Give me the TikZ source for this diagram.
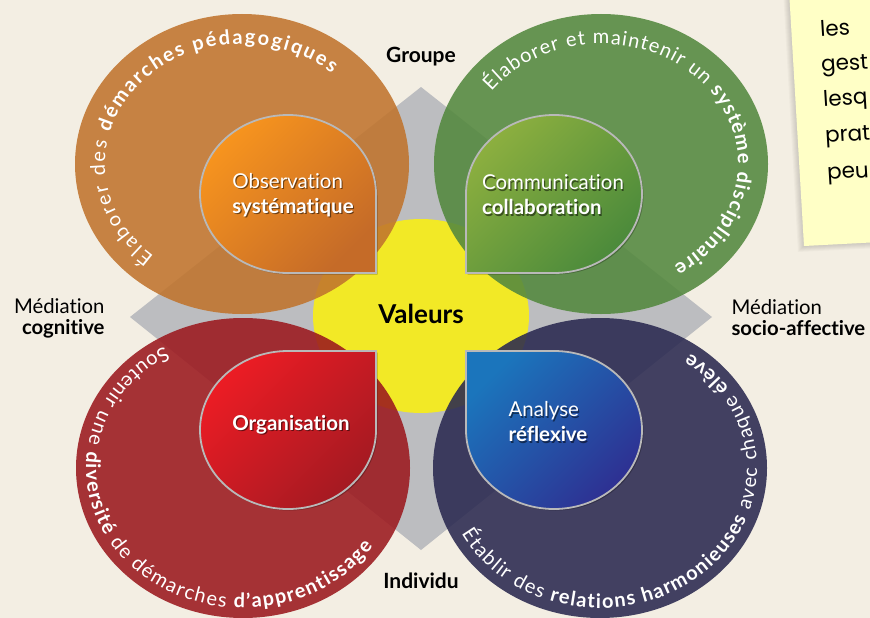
\documentclass[tikz,border=0pt]{standalone}
\usepackage{fontspec}
\setmainfont{Lato}[Ligatures=NoCommon]
\newfontfamily\notehand{Poppins}
\usetikzlibrary{decorations.text}

\definecolor{paper}{RGB}{243,238,227}
\definecolor{postit}{RGB}{255,255,198}
\definecolor{diamondgray}{RGB}{188,189,192}
\definecolor{valyellow}{RGB}{242,233,38}
\definecolor{ringorange}{RGB}{192,116,45}
\definecolor{ringgreen}{RGB}{83,136,62}
\definecolor{ringred}{RGB}{155,24,30}
\definecolor{ringnavy}{RGB}{42,41,80}
\definecolor{obslight}{RGB}{247,148,30}
\definecolor{obsdark}{RGB}{197,107,40}
\definecolor{comlight}{RGB}{140,175,63}
\definecolor{comdark}{RGB}{75,138,59}
\definecolor{orglight}{RGB}{236,28,36}
\definecolor{orgdark}{RGB}{164,26,34}
\definecolor{anlight}{RGB}{27,117,188}
\definecolor{andark}{RGB}{46,48,146}

\newcommand{\ringfont}{\fontsize{20}{20}\selectfont}

\tikzset{
  ring/.style={fill opacity=0.88},
  drop/.style={draw=gray!55, line width=1.8pt, shading angle=45,
    preaction={fill=black, fill opacity=0.25, transform canvas={xshift=1.5pt, yshift=-1.5pt}}},
  droptext/.style={text=white, align=left, font=\fontsize{20.5}{25}\selectfont},
  dropshade/.style={droptext, text=black, text opacity=0.5},
  axislabel/.style={font=\bfseries\fontsize{21}{22}\selectfont},
  sidelabel/.style={font=\fontsize{20.3}{21}\selectfont},
  ringtext/.style={decorate, decoration={text along path, text align={fit to path}, text color=white}},
  notetext/.style={anchor=base west, rotate=3.5, font=\notehand\fontsize{21.5}{22}\selectfont}
}

\begin{document}
\begin{tikzpicture}[x=1pt, y=-1pt]
\useasboundingbox (0,0) rectangle (870,618);
\clip (0,0) rectangle (870,618);
\fill[paper] (0,0) rectangle (870,618);

% sticky note
\foreach \s in {1,...,6}
  \fill[black, opacity=0.025] (789-\s,-10) -- (804-\s,246+\s) -- (880,242+\s) -- (880,-10) -- cycle;
\fill[postit] (789,-10) -- (804,246) -- (880,242) -- (880,-10) -- cycle;
\node[notetext] (note1) at (817,37) {les};
\node[notetext] (note2) at (818,72) {gest};
\node[notetext] (note3) at (820,107) {lesq};
\node[notetext] (note4) at (822,143) {prat};
\node[notetext] (note5) at (824,180) {peu};

% axes and centre
\fill[diamondgray] (421,87) -- (712,317) -- (421,550) -- (130,317) -- cycle;
\fill[valyellow] (421,316) ellipse [x radius=108, y radius=97];

% the four rings
\fill[ring, ringorange] (242,164) ellipse [x radius=167, y radius=150];
\fill[ring, ringgreen] (601,164) ellipse [x radius=167, y radius=150];
\fill[ring, ringred] (243,468) ellipse [x radius=167, y radius=150];
\fill[ring, ringnavy] (600,468) ellipse [x radius=167, y radius=150];

% drops
\path[top color=obslight, bottom color=obsdark, drop] (376,194) -- (376,273) -- (288,273)
  arc[start angle=90, end angle=360, x radius=88, y radius=79] -- cycle;
\path[top color=comlight, bottom color=comdark, drop] (554,273) -- (466,273) -- (466,194)
  arc[start angle=180, end angle=450, x radius=88, y radius=79] -- cycle;
\path[top color=orglight, bottom color=orgdark, drop] (288,351) -- (376,351) -- (376,430)
  arc[start angle=0, end angle=270, x radius=88, y radius=79] -- cycle;
\path[top color=anlight, bottom color=andark, drop] (466,430) -- (466,351) -- (554,351)
  arc[start angle=270, end angle=540, x radius=88, y radius=79] -- cycle;

\node[dropshade] (obsshade) at (294.2,196.2) {Observation\\\textbf{systématique}};
\node[droptext] (obs) at (293,195) {Observation\\\textbf{systématique}};
\node[dropshade] (comshade) at (554.2,196.2) {Communication\\\textbf{collaboration}};
\node[droptext] (com) at (553,195) {Communication\\\textbf{collaboration}};
\node[dropshade] (orgshade) at (292.2,426.2) {\textbf{Organisation}};
\node[droptext] (org) at (291,425) {\textbf{Organisation}};
\node[dropshade] (anashade) at (549.2,423.2) {Analyse\\\textbf{réflexive}};
\node[droptext] (ana) at (548,422) {Analyse\\\textbf{réflexive}};

% text round the rings
\path[ringtext, decoration={text={|\ringfont|Élaborer des |\ringfont\bfseries|démarches pédagogiques}}]
  ([shift={(130:137 and 120)}]242,164) arc[start angle=130, end angle=311, x radius=137, y radius=120];
\path[ringtext, decoration={text={|\ringfont|Élaborer et maintenir un |\ringfont\bfseries|système disciplinaire}}]
  ([shift={(217:137 and 120)}]601,164) arc[start angle=217, end angle=418, x radius=137, y radius=120];
\path[ringtext, decoration={text={|\ringfont|Soutenir une |\ringfont\bfseries|diversité|\ringfont| de démarches |\ringfont\bfseries|d’apprentissage}}]
  ([shift={(240:157 and 140)}]243,468) arc[start angle=240, end angle=34, x radius=157, y radius=140];
\path[ringtext, decoration={text={|\ringfont|Établir des |\ringfont\bfseries|relations harmonieuses|\ringfont| avec chaque |\ringfont\bfseries|élève}}]
  ([shift={(152:157 and 140)}]600,468) arc[start angle=152, end angle=-55, x radius=157, y radius=140];

% labels
\node[axislabel] (groupe) at (421,57) {Groupe};
\node[axislabel] (individu) at (421,581) {Individu};
\node[axislabel, font=\bfseries\fontsize{26}{28}\selectfont] (valeurs) at (421,314) {Valeurs};
\node[sidelabel, anchor=east, align=right] (medcog) at (108,318) {Médiation\\\textbf{cognitive}};
\node[sidelabel, anchor=west, align=left] (medsoc) at (728,318) {Médiation\\\textbf{socio-affective}};
\end{tikzpicture}
\end{document}
